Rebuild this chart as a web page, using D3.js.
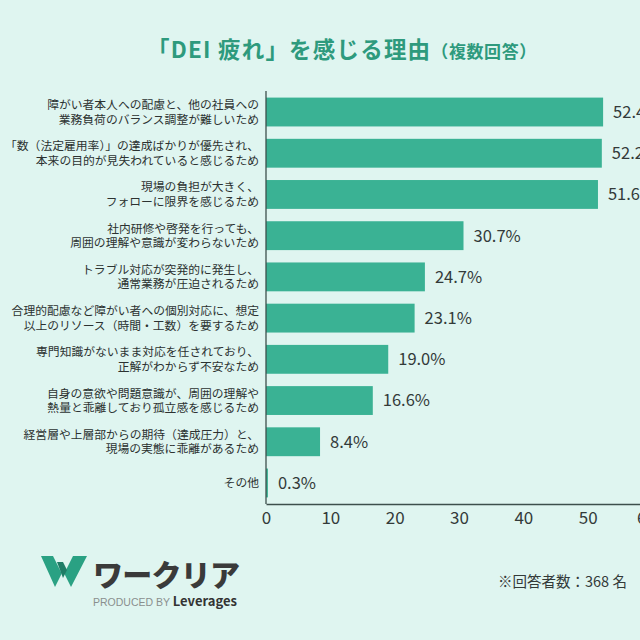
<!DOCTYPE html>
<html>
<head>
<meta charset="utf-8">
<script src="https://cdn.jsdelivr.net/npm/d3@7"></script>
<style>
  html, body { margin: 0; padding: 0; background: #dff5f0; }
  svg { display: block; font-family: "Noto Sans CJK JP", "Noto Sans", sans-serif; }
</style>
</head>
<body>
<div id="chart"></div>
<script>
// reasons (two-line labels split by "\n")
const categories = [
  "障がい者本人への配慮と、他の社員への\n業務負荷のバランス調整が難しいため",
  "「数（法定雇用率）」の達成ばかりが優先され、\n本来の目的が見失われていると感じるため",
  "現場の負担が大きく、\nフォローに限界を感じるため",
  "社内研修や啓発を行っても、\n周囲の理解や意識が変わらないため",
  "トラブル対応が突発的に発生し、\n通常業務が圧迫されるため",
  "合理的配慮など障がい者への個別対応に、想定\n以上のリソース（時間・工数）を要するため",
  "専門知識がないまま対応を任されており、\n正解がわからず不安なため",
  "自身の意欲や問題意識が、周囲の理解や\n熱量と乖離しており孤立感を感じるため",
  "経営層や上層部からの期待（達成圧力）と、\n現場の実態に乖離があるため",
  "その他"
];
const values = [52.4, 52.2, 51.6, 30.7, 24.7, 23.1, 19.0, 16.6, 8.4, 0.3];
const xTicks = [0, 10, 20, 30, 40, 50, 60];

const W = 640, H = 640;
const teal = "#3ab294", ink = "#333a39";

const svg = d3.select("#chart").append("svg")
  .attr("width", W).attr("height", H);

svg.append("rect").attr("width", W).attr("height", H).attr("fill", "#dff5f0");

// title
const title = svg.append("text")
  .attr("x", 342).attr("y", 58)
  .attr("text-anchor", "middle")
  .attr("fill", "#2e9a7d")
  .attr("font-weight", 700);
title.append("tspan").attr("font-size", 22.5).attr("letter-spacing", 1.2).text("「DEI 疲れ」を感じる理由");
title.append("tspan").attr("font-size", 17).attr("letter-spacing", 0.6).text("（複数回答）");

const x = d3.scaleLinear().domain([0, 60]).range([266, 652]);
const y = d3.scaleBand().domain(categories).range([91, 504])
  .paddingInner(0.3).paddingOuter(0.16);

// bars
svg.append("g").selectAll("rect")
  .data(values)
  .join("rect")
  .attr("x", x(0))
  .attr("y", (d, i) => y(categories[i]))
  .attr("width", d => x(d) - x(0))
  .attr("height", y.bandwidth())
  .attr("fill", teal);

// value labels
svg.append("g").selectAll("text")
  .data(values)
  .join("text")
  .attr("x", d => x(d) + 10)
  .attr("y", (d, i) => y(categories[i]) + y.bandwidth() / 2)
  .attr("dy", "0.36em")
  .attr("font-size", 16.5)
  .attr("fill", ink)
  .text(d => d.toFixed(1) + "%");

// category labels
const lab = svg.append("g").selectAll("text")
  .data(categories)
  .join("text")
  .attr("text-anchor", "end")
  .attr("font-size", 11.8)
  .attr("fill", "#2c3231");
lab.each(function(c) {
  const lines = c.split("\n");
  const cy = y(c) + y.bandwidth() / 2;
  const t = d3.select(this);
  lines.forEach((ln, k) => {
    t.append("tspan")
      .attr("x", 259)
      .attr("y", cy + (k - (lines.length - 1) / 2) * 14.5)
      .attr("dy", "0.36em")
      .text(ln);
  });
});

// axes
const xAxis = svg.append("g")
  .attr("transform", "translate(0,504)")
  .call(d3.axisBottom(x).tickValues(xTicks).tickSize(0).tickPadding(8));
xAxis.select(".domain").attr("stroke", "#3d4f4c").attr("stroke-width", 1.3);
xAxis.selectAll("text")
  .attr("font-size", 17)
  .attr("fill", ink)
  .attr("font-family", "\"Noto Sans CJK JP\", sans-serif")
  .attr("dx", d => d === 60 ? -6 : 0);

svg.append("line")
  .attr("x1", x(0)).attr("x2", x(0))
  .attr("y1", 91).attr("y2", 504)
  .attr("stroke", "#3d4f4c").attr("stroke-width", 1.3);

// footer: logo
const logo = svg.append("g").attr("transform", "translate(41,556)");
logo.append("path")
  .attr("d", "M0,0 L12,0 L22,20 L32,0 L46,0 L30,31 L14,31 Z")
  .attr("fill", "#2aa183");
logo.append("path")
  .attr("d", "M14,31 L22,15 L30,31 Z")
  .attr("fill", "#dff5f0");
logo.append("path")
  .attr("d", "M16,6 L22,6 L26,14 L22,22 Z")
  .attr("fill", "#1f7d66");

svg.append("text")
  .attr("x", 93).attr("y", 586)
  .attr("font-size", 30)
  .attr("font-weight", 900)
  .attr("fill", "#3a3a3a")
  .attr("textLength", 147)
  .text("ワークリア");

const prod = svg.append("text")
  .attr("x", 93).attr("y", 606);
prod.append("tspan")
  .attr("font-size", 10.5).attr("fill", "#8a8f8e")
  .attr("font-family", "\"Liberation Sans\", sans-serif")
  .text("PRODUCED BY ");
prod.append("tspan")
  .attr("font-size", 13).attr("font-weight", 700).attr("fill", "#333")
  .text("Leverages");

svg.append("text")
  .attr("x", 498).attr("y", 587)
  .attr("font-size", 14.5)
  .attr("fill", ink)
  .text("※回答者数：368 名");
</script>
</body>
</html>
